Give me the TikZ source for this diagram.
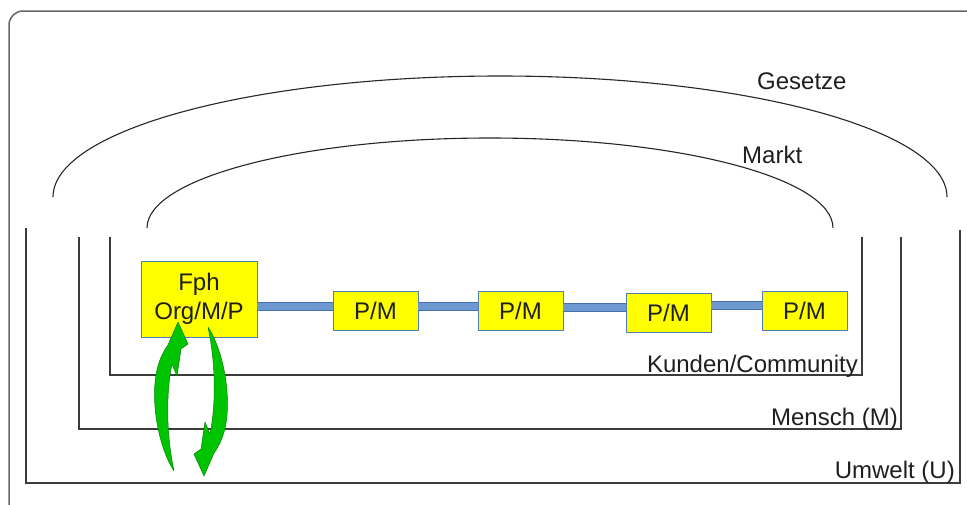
\documentclass[tikz,border=0pt]{standalone}
\usepackage{fontspec}
\setmainfont{Liberation Sans}
\definecolor{boxyellow}{RGB}{255,255,0}
\definecolor{boxline}{RGB}{80,125,185}
\definecolor{barfill}{RGB}{110,152,208}
\definecolor{barline}{RGB}{72,112,172}
\definecolor{arrowgreen}{RGB}{0,196,0}
\definecolor{arrowdark}{RGB}{0,130,0}
\definecolor{linegray}{RGB}{60,60,60}
\begin{document}
\begin{tikzpicture}[x=1pt,y=-1pt,
  lbl/.style={font=\fontsize{24}{29}\selectfont, text=black!88, inner sep=0pt},
  pmbox/.style={draw=boxline, line width=0.9pt, fill=boxyellow, minimum width=85pt, minimum height=39pt, inner sep=0pt, font=\fontsize{24}{29}\selectfont, text=black!88},
  fphbox/.style={pmbox, minimum width=116pt, minimum height=76pt, align=center},
  bar/.style={draw=barline, double=barfill, double distance=7pt, line width=1pt},
  ushape/.style={draw=linegray, line width=1.2pt},
  arcline/.style={draw=black!85, line width=1.1pt},
  greenarrow/.style={fill=arrowgreen, draw=arrowdark, line width=0.5pt, line join=round}
]
\useasboundingbox (0,0) rectangle (967,504);
\clip (0,0) rectangle (967,504);
\fill[white] (0,0) rectangle (967,504);

% outer frame
\draw[draw=black!60, line width=1.5pt, rounded corners=14pt] (9,11) rectangle (985,518);

% U shapes
\draw[ushape] (26,228) -- (26,483) -- (960,483) -- (960,230);
\draw[ushape] (79,237) -- (79,429) -- (901,429) -- (901,237);
\draw[ushape] (110,237) -- (110,375) -- (862,375) -- (862,237);

% arcs
\draw[arcline] (53,197) arc[start angle=180, end angle=0, x radius=447pt, y radius=121pt];
\draw[arcline] (147,228) arc[start angle=180, end angle=0, x radius=343pt, y radius=90pt];

% labels
\node[lbl, anchor=base west] (gesetze) at (757,89) {Gesetze};
\node[lbl, anchor=base west] (markt) at (742,163) {Markt};
\node[lbl, anchor=base east] (kunden) at (858,372) {Kunden/Community};
\node[lbl, anchor=base east] (mensch) at (898,425) {Mensch (M)};
\node[lbl, anchor=base east] (umwelt) at (955,478) {Umwelt (U)};

% boxes
\node[fphbox] (fph) at (199,299) {Fph\\Org/M/P};
\node[pmbox] (pm1) at (375.5,310.5) {P/M};
\node[pmbox] (pm2) at (520.5,310.5) {P/M};
\node[pmbox] (pm3) at (668.5,312.5) {P/M};
\node[pmbox] (pm4) at (804.5,310.5) {P/M};

% bars
\draw[bar] ([yshift=4.5pt]pm1.west -| fph.east) -- ([yshift=4.5pt]pm1.west);
\draw[bar] ([yshift=4.5pt]pm1.east) -- ([yshift=4.5pt]pm2.west);
\draw[bar] ([yshift=3pt]pm2.east) -- ([yshift=5pt]pm3.west);
\draw[bar] ([yshift=7pt]pm3.east) -- ([yshift=5pt]pm4.west);

% green circular arrows
\path[greenarrow] (178,322) -- (188,344) -- (181,349) -- (177,376) -- (172,364)
  .. controls (167,388) and (165,428) .. (174,471)
  .. controls (159,448) and (151,405) .. (156,375)
  .. controls (158,362) and (163,352) .. (168,345) -- cycle;
\begin{scope}[rotate around={180:(191,399)}]
\path[greenarrow] (178,322) -- (188,344) -- (181,349) -- (177,376) -- (172,364)
  .. controls (167,388) and (165,428) .. (174,471)
  .. controls (159,448) and (151,405) .. (156,375)
  .. controls (158,362) and (163,352) .. (168,345) -- cycle;
\end{scope}
\end{tikzpicture}
\end{document}
